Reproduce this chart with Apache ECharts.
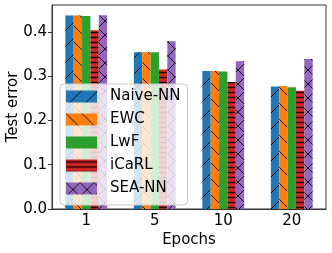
<!DOCTYPE html>
<html><head><meta charset="utf-8">
<script src="https://cdn.jsdelivr.net/npm/echarts@6/dist/echarts.min.js"></script>
<style>html,body{margin:0;padding:0;background:#fff}#c{width:332px;height:253px}</style>
</head><body><div id="c"></div>
<script>
var categories = ['1', '5', '10', '20'];
var naiveNN = [0.437, 0.354, 0.312, 0.277];
var ewc     = [0.437, 0.354, 0.312, 0.278];
var lwf     = [0.436, 0.354, 0.311, 0.275];
var icarl   = [0.404, 0.315, 0.287, 0.267];
var seaNN   = [0.438, 0.379, 0.334, 0.339];
var seriesNames = ['Naive-NN', 'EWC', 'LwF', 'iCaRL', 'SEA-NN'];
var yTicks = [0.0, 0.1, 0.2, 0.3, 0.4];

var colors = ['#1f77b4', '#ff7f0e', '#2ca02c', '#d62728', '#9467bd'];
var hatches = ['/', '\\', '', '-', 'x'];

function makePattern(color, hatch) {
  var s = hatch === 'x' ? 14 : (hatch === '-' ? 10 : 16);
  var c = document.createElement('canvas');
  c.width = s; c.height = s;
  var g = c.getContext('2d');
  g.fillStyle = color; g.fillRect(0, 0, s, s);
  g.strokeStyle = 'rgba(0,0,0,0.85)';
  g.lineWidth = 1;
  g.beginPath();
  var k;
  if (hatch === '/' || hatch === 'x') {
    for (k = -s; k <= s; k += s) { g.moveTo(k, s); g.lineTo(k + s, 0); }
  }
  if (hatch === '\\' || hatch === 'x') {
    for (k = -s; k <= s; k += s) { g.moveTo(k, 0); g.lineTo(k + s, s); }
  }
  if (hatch === '-') {
    g.lineWidth = 1.3;
    g.moveTo(0, 2.5); g.lineTo(s, 2.5);
    g.moveTo(0, 7.5); g.lineTo(s, 7.5);
  }
  g.stroke();
  return { image: c, repeat: 'repeat' };
}

var values = [naiveNN, ewc, lwf, icarl, seaNN];
var font = 'DejaVu Sans';
var series = seriesNames.map(function (n, i) {
  return {
    name: n, type: 'bar', data: values[i],
    barGap: '0%', barCategoryGap: '39%',
    itemStyle: { color: makePattern(colors[i], hatches[i]) }
  };
});

var chart = echarts.init(document.getElementById('c'), null, { renderer: 'canvas' });
chart.setOption({
  animation: false,
  textStyle: { fontFamily: font },
  grid: { left: 52, right: 6, top: 5, bottom: 44, containLabel: false, outerBoundsMode: 'none',
    show: true, borderColor: '#333', borderWidth: 1, backgroundColor: 'transparent' },
  xAxis: {
    type: 'category', data: categories,
    name: 'Epochs', nameLocation: 'middle', nameGap: 24, nameMoveOverlap: false,
    nameTextStyle: { fontSize: 15, color: '#000', fontFamily: font },
    axisLine: { lineStyle: { color: '#333', width: 1 } },
    axisTick: { alignWithLabel: true, length: 4, lineStyle: { color: '#333' } },
    axisLabel: { fontSize: 15, color: '#000', margin: 5, fontFamily: font }
  },
  yAxis: {
    type: 'value', min: 0, max: 0.461, interval: 0.1,
    name: 'Test error', nameLocation: 'middle', nameGap: 31, nameMoveOverlap: false,
    nameTextStyle: { fontSize: 15, color: '#000', fontFamily: font },
    splitLine: { show: false },
    axisLine: { show: true, lineStyle: { color: '#333', width: 1 } },
    axisTick: { show: true, length: 4, lineStyle: { color: '#333' } },
    axisLabel: { fontSize: 15, color: '#000', margin: 5, showMaxLabel: false, fontFamily: font,
      formatter: function (v) { return yTicks.indexOf(Math.round(v * 10) / 10) >= 0 ? v.toFixed(1) : ''; } }
  },
  legend: {
    orient: 'vertical', left: 60, top: 84,
    itemWidth: 31, itemHeight: 12, itemGap: 8,
    icon: 'rect',
    padding: [5, 7, 9, 6],
    backgroundColor: 'rgba(255,255,255,0.8)',
    borderColor: '#cccccc', borderWidth: 1, borderRadius: 4,
    formatter: '{a|{name}}',
    textStyle: { fontSize: 15, color: '#000', fontFamily: font, lineHeight: 15,
      rich: { a: { fontSize: 15, lineHeight: 15, color: '#000', fontFamily: font, padding: [0, 0, 0, 8] } } },
    data: seriesNames
  },
  series: series
});
</script></body></html>
